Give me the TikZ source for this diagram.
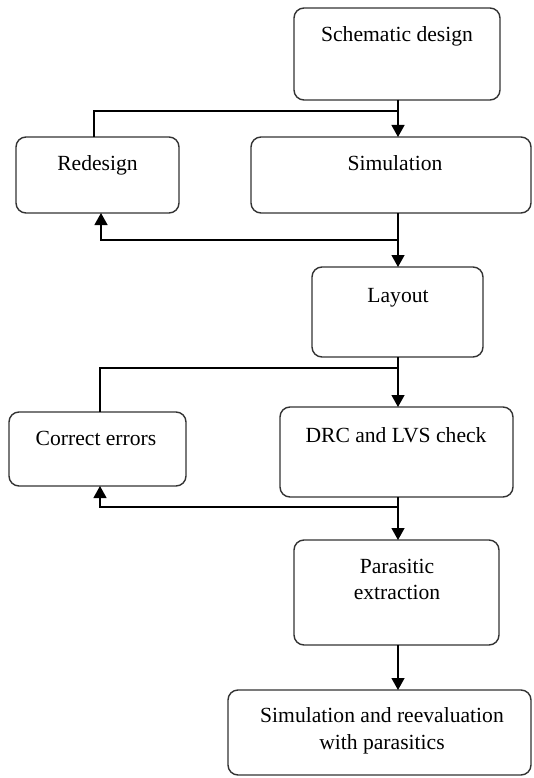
\documentclass[tikz,border=0pt]{standalone}
\usepackage{fontspec}
\setmainfont{Liberation Serif}
\usetikzlibrary{arrows.meta}

\begin{document}
\begin{tikzpicture}[x=1pt, y=-1pt,
  box/.style={draw=black!80, line width=1.4pt, rounded corners=10pt,
    rectangle, inner sep=0pt, outer sep=0pt, fill=white},
  txt/.style={inner sep=0pt, font=\fontsize{21.6}{26.5}\selectfont, align=center},
  wire/.style={draw=black, line width=1.3pt},
  arr/.style={wire, -{Triangle[length=12pt, width=13pt]}}
]
\useasboundingbox (0,0) rectangle (533,778);

% process boxes
\node[box, minimum width=206pt, minimum height=92pt]  (sch) at (397,54)    {};
\node[box, minimum width=163pt, minimum height=76pt]  (red) at (97.5,175)  {};
\node[box, minimum width=280pt, minimum height=76pt]  (sim) at (391,175)   {};
\node[box, minimum width=171pt, minimum height=90pt]  (lay) at (397.5,312) {};
\node[box, minimum width=177pt, minimum height=74pt]  (err) at (97.5,449)  {};
\node[box, minimum width=233pt, minimum height=90pt]  (drc) at (396.5,452) {};
\node[box, minimum width=205pt, minimum height=105pt] (par) at (396.5,592.5) {};
\node[box, minimum width=303pt, minimum height=85pt]  (fin) at (379.5,732.5) {};

% box captions, set near the top of each box
\node[txt, anchor=base] (schT) at (397,42)  {Schematic design};
\node[txt, anchor=base] (redT) at (97.5,171) {Redesign};
\node[txt, anchor=base] (simT) at (395,171)  {Simulation};
\node[txt, anchor=base] (layT) at (398,302)  {Layout};
\node[txt, anchor=base] (errT) at (96,445)   {Correct errors};
\node[txt, anchor=base] (drcT) at (396,442)  {DRC and LVS check};
\node[txt, anchor=north] (parT) at (397,558.5) {Parasitic\\extraction};
\node[txt, anchor=north] (finT) at (382,707.5) {Simulation and reevaluation\\with parasitics};

% main flow spine and feedback columns
\coordinate (spine) at (398,0);
\coordinate (fbA) at (94,0);
\coordinate (fbB) at (101,0);
\coordinate (fbC) at (100,0);
\coordinate (j1) at (398,111);
\coordinate (j2) at (398,240);
\coordinate (j3) at (398,368);
\coordinate (j4) at (398,507);

\draw[arr] (sch.south -| spine) -- (sim.north -| spine);
\draw[arr] (sim.south -| spine) -- (lay.north -| spine);
\draw[arr] (lay.south -| spine) -- (drc.north -| spine);
\draw[arr] (drc.south -| spine) -- (par.north -| spine);
\draw[arr] (par.south -| spine) -- (fin.north -| spine);

% redesign loop
\draw[wire] (red.north -| fbA) |- (j1);
\draw[arr] (j2) -| (red.south -| fbB);

% error correction loop
\draw[wire] (err.north -| fbC) |- (j3);
\draw[arr] (j4) -| (err.south -| fbC);
\end{tikzpicture}
\end{document}
